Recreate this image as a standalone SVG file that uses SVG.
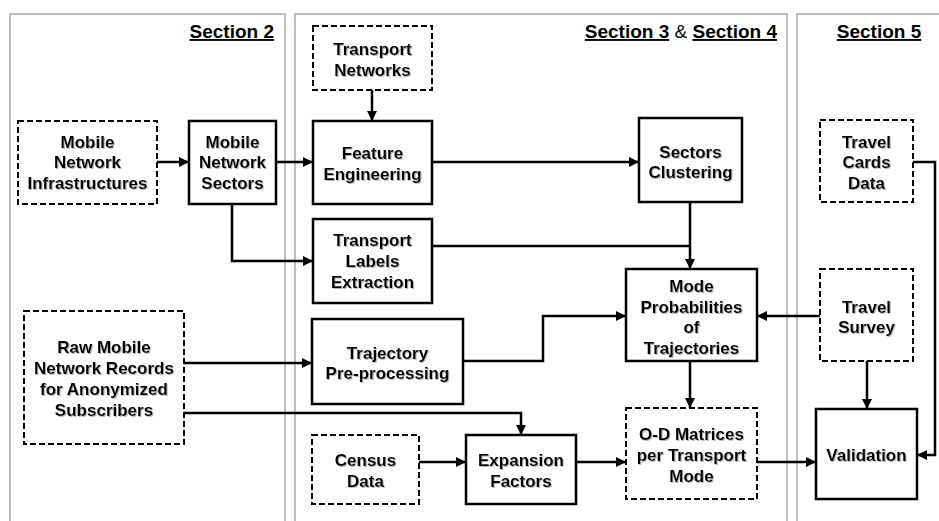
<svg xmlns="http://www.w3.org/2000/svg" width="939" height="521" viewBox="0 0 939 521">
<defs>
<marker id="ah" viewBox="0 0 10 10" refX="10" refY="5" markerWidth="4" markerHeight="4" orient="auto" markerUnits="strokeWidth"><path d="M0,0 L10,5 L0,10 z" fill="#000"/></marker>
<filter id="sh" x="-10%" y="-10%" width="120%" height="130%"><feDropShadow dx="1" dy="1" stdDeviation="0.6" flood-color="#888" flood-opacity="0.6"/></filter>
</defs>
<style>
.panel{fill:none;stroke:#bfbfbf;stroke-width:2}
.box{fill:#fff;stroke:#000;stroke-width:2.5}
.dbox{fill:#fff;stroke:#000;stroke-width:2;stroke-dasharray:6,3}
.t{font-family:"Liberation Sans",Arial,sans-serif;font-weight:bold;font-size:17px;text-anchor:middle;fill:#000;filter:url(#sh)}
.hd{font-family:"Liberation Sans",Arial,sans-serif;font-weight:bold;font-size:19px;fill:#000}
.c{fill:none;stroke:#000;stroke-width:2.5;marker-end:url(#ah)}
.cn{fill:none;stroke:#000;stroke-width:2.5}
</style>
<rect width="939" height="521" fill="#fff"/>
<g id="panels">
<path class="panel" d="M10,530 V14 H285 V530"/>
<path class="panel" d="M295,530 V14 H787 V530"/>
<path class="panel" d="M797,530 V14 H945"/>
<text class="hd" x="274" y="38" text-anchor="end" text-decoration="underline">Section 2</text>
<text class="hd" x="777" y="38" text-anchor="end"><tspan text-decoration="underline">Section 3</tspan><tspan font-weight="normal"> &amp; </tspan><tspan text-decoration="underline">Section 4</tspan></text>
<text class="hd" x="879" y="38" text-anchor="middle" text-decoration="underline">Section 5</text>
</g>
<g id="connectors">
<path class="c" d="M157,162 H189"/>
<path class="c" d="M276,162 H313"/>
<path class="c" d="M232,204 V261 H313"/>
<path class="c" d="M372,90 V121"/>
<path class="c" d="M432,162 H639"/>
<path class="cn" d="M432,246 H690"/>
<path class="c" d="M690,202 V269"/>
<path class="c" d="M184,363 H312"/>
<path class="c" d="M463,361 H543 V316 H626"/>
<path class="c" d="M184,413 H521 V435"/>
<path class="c" d="M419,462 H466"/>
<path class="c" d="M576,462 H626"/>
<path class="c" d="M690,361 V408"/>
<path class="c" d="M820,316 H757"/>
<path class="c" d="M867,361 V409"/>
<path class="c" d="M757,462 H816"/>
<path class="c" d="M913,162 H935 V455 H917"/>
</g>
<g id="n-infra"><rect class="dbox" x="18" y="121" width="139" height="83"/><text class="t" x="87.5" y="148">Mobile</text><text class="t" x="87.5" y="168">Network</text><text class="t" x="87.5" y="189">Infrastructures</text></g>
<g id="n-sectors"><rect class="box" x="189" y="121" width="87" height="83"/><text class="t" x="232.5" y="148">Mobile</text><text class="t" x="232.5" y="168">Network</text><text class="t" x="232.5" y="189">Sectors</text></g>
<g id="n-tnet"><rect class="dbox" x="313" y="26" width="119" height="64"/><text class="t" x="372.5" y="55">Transport</text><text class="t" x="372.5" y="76">Networks</text></g>
<g id="n-feat"><rect class="box" x="313" y="121" width="119" height="83"/><text class="t" x="372.5" y="159">Feature</text><text class="t" x="372.5" y="180">Engineering</text></g>
<g id="n-labels"><rect class="box" x="313" y="219" width="119" height="84"/><text class="t" x="372.5" y="246">Transport</text><text class="t" x="372.5" y="267">Labels</text><text class="t" x="372.5" y="288">Extraction</text></g>
<g id="n-clust"><rect class="box" x="639" y="118" width="103" height="84"/><text class="t" x="690.5" y="158">Sectors</text><text class="t" x="690.5" y="178">Clustering</text></g>
<g id="n-mode"><rect class="box" x="626" y="269" width="131" height="92"/><text class="t" x="691.5" y="292">Mode</text><text class="t" x="691.5" y="313">Probabilities</text><text class="t" x="691.5" y="333">of</text><text class="t" x="691.5" y="354">Trajectories</text></g>
<g id="n-traj"><rect class="box" x="312" y="319" width="151" height="85"/><text class="t" x="387.5" y="359">Trajectory</text><text class="t" x="387.5" y="379">Pre-processing</text></g>
<g id="n-raw"><rect class="dbox" x="24" y="311" width="160" height="133"/><text class="t" x="104" y="353">Raw Mobile</text><text class="t" x="104" y="374">Network Records</text><text class="t" x="104" y="395">for Anonymized</text><text class="t" x="104" y="416">Subscribers</text></g>
<g id="n-census"><rect class="dbox" x="312" y="435" width="107" height="69"/><text class="t" x="365.5" y="466">Census</text><text class="t" x="365.5" y="487">Data</text></g>
<g id="n-exp"><rect class="box" x="466" y="435" width="110" height="69"/><text class="t" x="521" y="466">Expansion</text><text class="t" x="521" y="487">Factors</text></g>
<g id="n-od"><rect class="dbox" x="626" y="408" width="131" height="91"/><text class="t" x="691.5" y="440">O-D Matrices</text><text class="t" x="691.5" y="461">per Transport</text><text class="t" x="691.5" y="482">Mode</text></g>
<g id="n-cards"><rect class="dbox" x="820" y="120" width="93" height="82"/><text class="t" x="866.5" y="148">Travel</text><text class="t" x="866.5" y="168">Cards</text><text class="t" x="866.5" y="189">Data</text></g>
<g id="n-survey"><rect class="dbox" x="820" y="269" width="93" height="92"/><text class="t" x="866.5" y="313">Travel</text><text class="t" x="866.5" y="333">Survey</text></g>
<g id="n-valid"><rect class="box" x="816" y="409" width="101" height="90"/><text class="t" x="866.5" y="461">Validation</text></g>
</svg>
